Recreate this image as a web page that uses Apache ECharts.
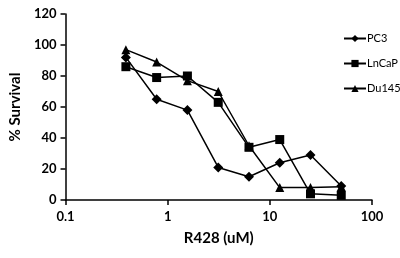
<!DOCTYPE html>
<html>
<head>
<meta charset="utf-8">
<script src="https://cdn.jsdelivr.net/npm/echarts@6/dist/echarts.min.js"></script>
<style>
  html, body { margin: 0; padding: 0; background: #fff; }
  #chart { width: 400px; height: 258px; }
</style>
</head>
<body>
<div id="chart"></div>
<script>
// concentrations (uM)
const conc = [0.39, 0.78, 1.56, 3.125, 6.25, 12.5, 25, 50];
const pc3 = [92, 65, 58, 21, 15, 24, 29, 9];
const lncap = [86, 79, 80, 63, 34, 39, 4, 3];
const du145 = [97, 89, 77, 70, 35, 8, 8, 8.5];

const font = "Lato, 'Open Sans', sans-serif";

const pairs = (ys) => conc.map((x, i) => [x, ys[i]]);

const mkSeries = (name, ys, symbol, size) => ({
  name,
  type: "line",
  data: pairs(ys),
  symbol,
  symbolSize: size,
  showSymbol: true,
  lineStyle: { color: "#000", width: 1.5 },
  itemStyle: { color: "#000" },
  emphasis: { disabled: true },
});

const chart = echarts.init(document.getElementById("chart"), null, { renderer: "canvas" });
chart.setOption({
  animation: false,
  backgroundColor: "#fff",
  grid: { left: 62, right: 28, top: 14, bottom: 58 },
  legend: {
    orient: "vertical",
    left: 338,
    top: 28,
    itemGap: 14,
    itemWidth: 22,
    itemHeight: 9,
    textStyle: { fontFamily: font, fontSize: 11, color: "#000", padding: [0, 0, 0, -4] },
    data: ["PC3", "LnCaP", "Du145"],
  },
  xAxis: {
    type: "log",
    logBase: 10,
    min: 0.1,
    max: 100,
    name: "R428 (uM)",
    nameLocation: "middle",
    nameGap: 31,
    nameTextStyle: { fontFamily: font, fontSize: 15, fontWeight: "bold", color: "#000" },
    axisLine: { lineStyle: { color: "#000", width: 1.5 } },
    axisTick: { show: true, inside: false, length: 5, lineStyle: { color: "#000", width: 1.5 } },
    minorTick: { show: false },
    axisLabel: {
      fontFamily: font, fontSize: 13, fontWeight: "bold", color: "#000", margin: 10,
      formatter: (v) => String(+v.toPrecision(3)),
    },
    splitLine: { show: false },
  },
  yAxis: {
    type: "value",
    min: 0,
    max: 120,
    interval: 20,
    name: "% Survival",
    nameLocation: "middle",
    nameGap: 38,
    nameTextStyle: { fontFamily: font, fontSize: 15, fontWeight: "bold", color: "#000" },
    axisLine: { show: true, lineStyle: { color: "#000", width: 1.5 } },
    axisTick: { show: true, length: 5, lineStyle: { color: "#000", width: 1.5 } },
    axisLabel: { fontFamily: font, fontSize: 13, fontWeight: "bold", color: "#000", margin: 9 },
    splitLine: { show: false },
  },
  series: [
    mkSeries("PC3", pc3, "diamond", 10),
    mkSeries("LnCaP", lncap, "rect", 9),
    mkSeries("Du145", du145, "triangle", 9),
  ],
});
</script>
</body>
</html>
